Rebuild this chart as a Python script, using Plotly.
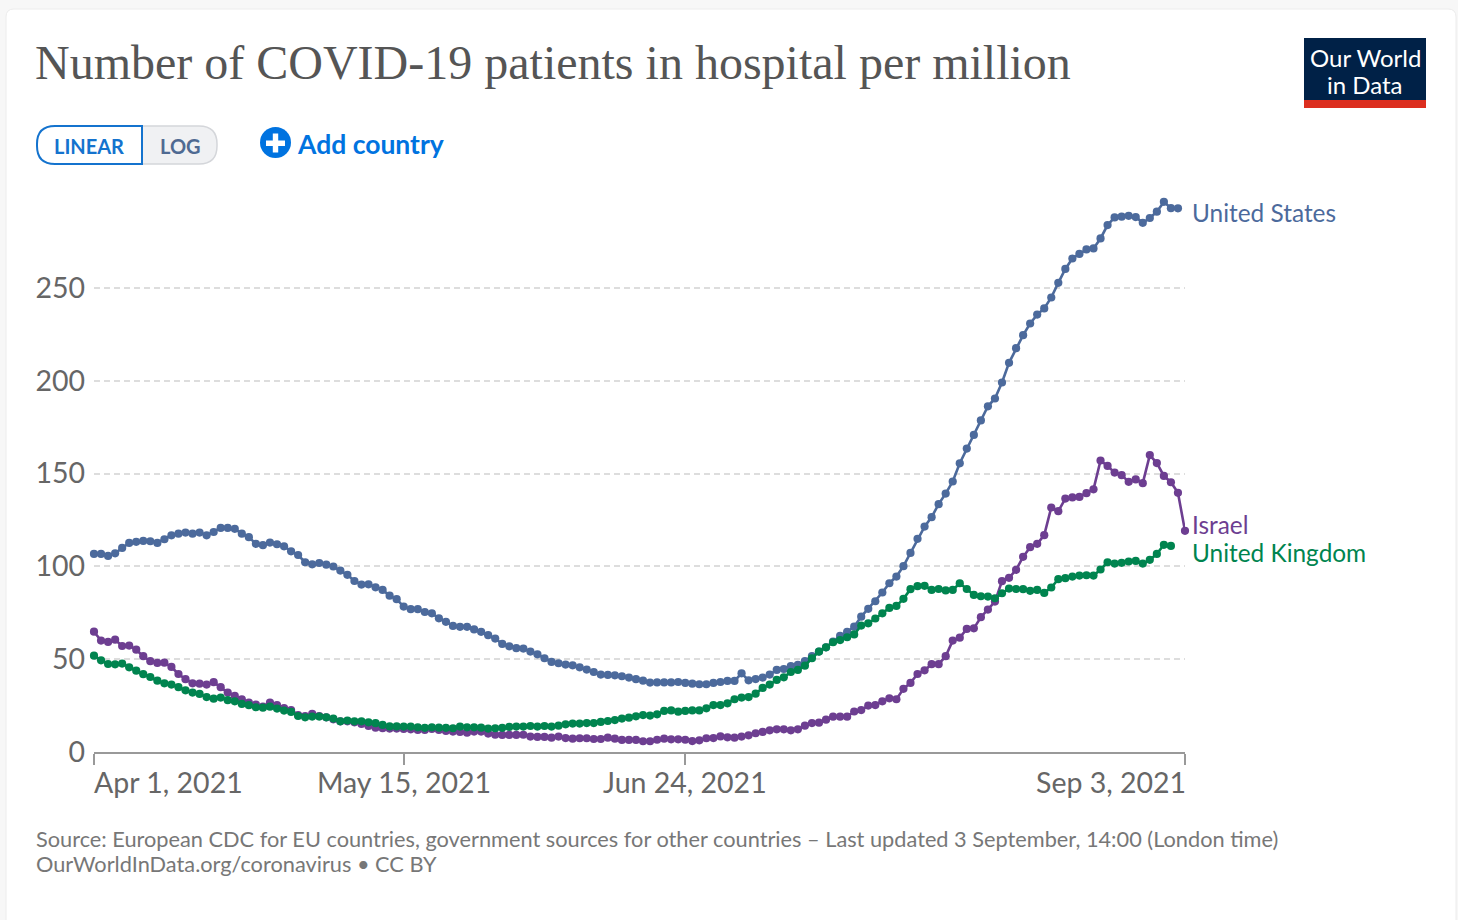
import pandas as pd
import plotly.graph_objects as go

W, H = 1458, 920

START_DATE = "2021-04-01"
END_DATE = "2021-09-03"

united_states = [
    106.7, 106.7, 105.6, 107.0, 109.9, 112.6, 113.2, 113.7, 113.5, 112.6,
    114.6, 116.7, 117.6, 118.2, 117.6, 118.2, 116.7, 118.5, 120.7, 120.7,
    120.2, 117.6, 115.7, 112.1, 111.4, 112.8, 111.9, 110.8, 108.1, 106.1,
    102.2, 101.1, 101.8, 100.9, 99.9, 97.7, 95.4, 92.1, 90.2, 90.3,
    88.7, 87.3, 84.2, 82.3, 78.3, 76.9, 76.9, 75.4, 74.7, 72.0,
    70.1, 67.9, 67.4, 67.4, 66.0, 64.7, 62.9, 61.1, 58.2, 56.9,
    55.9, 55.7, 54.1, 52.6, 50.5, 48.5, 47.8, 47.1, 46.7, 45.6,
    44.4, 43.1, 41.7, 41.5, 41.3, 40.8, 40.1, 39.2, 38.4, 37.4,
    37.5, 37.5, 37.5, 37.7, 37.2, 36.8, 36.5, 36.5, 37.2, 37.7,
    38.3, 38.3, 42.4, 38.6, 39.3, 40.1, 41.7, 44.2, 44.7, 46.3,
    46.9, 49.0, 51.7, 54.1, 56.4, 59.5, 62.5, 64.7, 67.5, 72.9,
    77.1, 81.2, 85.9, 90.9, 94.5, 100.1, 107.2, 114.8, 121.4, 126.5,
    133.5, 139.2, 145.7, 155.5, 163.4, 170.8, 178.6, 186.2, 190.4, 199.0,
    209.6, 217.5, 224.5, 230.8, 235.6, 238.9, 244.8, 252.7, 260.2, 265.8,
    268.3, 270.7, 271.2, 276.6, 283.8, 287.9, 288.3, 288.8, 288.1, 285.0,
    287.6, 291.0, 296.3, 292.9, 292.8,
]

israel = [
    64.8, 60.0, 59.3, 60.5, 57.1, 57.3, 55.1, 51.6, 48.9, 48.0,
    48.1, 45.8, 42.0, 39.2, 37.0, 36.8, 36.3, 37.6, 34.9, 32.0,
    30.2, 28.4, 26.6, 25.5, 24.4, 26.6, 25.2, 23.7, 22.6, 19.9,
    19.4, 20.5, 19.4, 18.7, 17.6, 16.5, 16.5, 16.0, 15.1, 14.0,
    13.1, 12.8, 12.6, 12.6, 12.4, 12.2, 11.9, 11.9, 12.4, 11.9,
    11.3, 11.0, 10.8, 10.4, 11.0, 11.0, 9.9, 9.3, 9.2, 9.2,
    9.2, 9.3, 8.3, 8.1, 8.1, 7.7, 8.3, 7.5, 7.2, 7.4,
    7.4, 7.0, 7.0, 7.7, 7.2, 6.5, 6.5, 6.5, 5.8, 5.8,
    6.6, 7.2, 6.8, 6.8, 6.6, 5.9, 6.3, 7.4, 7.5, 8.4,
    7.9, 7.7, 8.3, 9.0, 10.1, 10.8, 11.7, 12.2, 12.2, 11.7,
    12.2, 14.2, 15.6, 15.8, 17.4, 19.0, 19.0, 19.0, 21.8, 22.6,
    25.0, 25.3, 27.3, 28.9, 28.4, 34.0, 37.2, 42.0, 44.0, 47.3,
    47.3, 51.6, 60.0, 61.6, 66.3, 66.6, 72.6, 76.7, 81.0, 92.0,
    93.8, 98.1, 105.1, 110.3, 112.1, 116.8, 131.7, 129.7, 136.5, 137.1,
    137.4, 139.4, 141.5, 157.0, 154.1, 150.5, 149.1, 145.5, 146.8, 144.8,
    159.9, 155.6, 148.7, 145.3, 139.6, 119.1,
]

united_kingdom = [
    51.9, 49.4, 47.4, 47.2, 47.6, 45.6, 43.8, 41.9, 40.4, 38.4,
    37.0, 36.3, 34.9, 33.2, 32.0, 31.3, 29.6, 28.7, 29.3, 27.9,
    27.3, 25.9, 25.2, 24.1, 23.9, 24.4, 23.4, 22.3, 21.6, 19.4,
    18.7, 19.1, 19.1, 18.7, 18.0, 16.5, 16.9, 16.5, 16.5, 16.0,
    15.5, 14.6, 13.8, 13.8, 13.7, 13.7, 13.3, 13.0, 13.3, 13.1,
    13.0, 12.8, 13.7, 13.3, 13.3, 13.1, 12.6, 12.8, 13.0, 13.5,
    13.7, 13.7, 14.0, 13.7, 14.0, 13.7, 14.2, 14.9, 15.3, 15.3,
    15.6, 15.6, 16.2, 16.7, 17.2, 18.0, 18.5, 19.2, 19.9, 19.6,
    20.3, 22.1, 22.4, 21.7, 22.1, 22.4, 22.4, 23.5, 25.3, 25.3,
    26.2, 28.4, 29.3, 29.6, 31.4, 34.5, 36.3, 38.8, 40.2, 43.1,
    44.2, 46.5, 50.5, 54.1, 56.4, 59.1, 60.3, 61.8, 63.3, 68.1,
    69.3, 71.9, 74.7, 77.6, 78.7, 82.5, 87.7, 89.3, 89.5, 87.3,
    87.8, 87.0, 87.3, 90.9, 87.8, 84.6, 83.9, 83.7, 82.8, 85.5,
    88.0, 87.8, 87.7, 86.8, 87.3, 85.7, 88.6, 93.1, 93.6, 94.5,
    95.0, 95.2, 95.0, 98.3, 102.2, 101.5, 101.9, 102.6, 102.9, 101.5,
    103.5, 106.7, 111.6, 111.0,
]

series = [
    ("United States", united_states, "#4C6A9C", 213),
    ("Israel", israel, "#6D3E91", 524),
    ("United Kingdom", united_kingdom, "#00844F", 552),
]

y_ticks = [0, 50, 100, 150, 200, 250]
x_tick_dates = ["2021-04-01", "2021-05-15", "2021-06-24", "2021-09-03"]
x_tick_labels = ["Apr 1, 2021", "May 15, 2021", "Jun 24, 2021", "Sep 3, 2021"]
x_tick_anchors = ["left", "center", "center", "right"]
x_tick_shifts = [-1, 0, 0, 2]


def px(x):
    return x / W


def py(y):
    return 1 - y / H


def rounded(x0, y0, x1, y1, rl, rr):
    """Rounded-rectangle path in paper coordinates, radii in pixels."""
    pts = [
        f"M {px(x0 + rl)} {py(y0)}", f"L {px(x1 - rr)} {py(y0)}",
        f"Q {px(x1)} {py(y0)} {px(x1)} {py(y0 + rr)}",
        f"L {px(x1)} {py(y1 - rr)}",
        f"Q {px(x1)} {py(y1)} {px(x1 - rr)} {py(y1)}",
        f"L {px(x0 + rl)} {py(y1)}",
        f"Q {px(x0)} {py(y1)} {px(x0)} {py(y1 - rl)}",
        f"L {px(x0)} {py(y0 + rl)}",
        f"Q {px(x0)} {py(y0)} {px(x0 + rl)} {py(y0)}", "Z",
    ]
    return " ".join(pts)


fig = go.Figure()
for name, values, color, _ in series:
    dates = pd.date_range(START_DATE, periods=len(values), freq="D")
    fig.add_trace(go.Scatter(
        x=dates, y=values, name=name, mode="lines+markers",
        line=dict(color=color, width=2.6),
        marker=dict(color=color, size=8.2),
        cliponaxis=False, showlegend=False,
    ))

shapes = [
    dict(type="path", xref="paper", yref="paper", layer="below",
         path=rounded(6, 9, 1456, 960, 8, 8),
         fillcolor="#FFFFFF", line=dict(color="#ECECEC", width=1)),
    dict(type="path", xref="paper", yref="paper",
         path=rounded(142, 126, 217, 164, 0, 18),
         fillcolor="#F0F1F3", line=dict(color="#D4D6DA", width=1.5)),
    dict(type="path", xref="paper", yref="paper",
         path=rounded(37, 126, 142, 164, 18, 0),
         fillcolor="#FFFFFF", line=dict(color="#1473CE", width=2)),
    dict(type="circle", xref="paper", yref="paper",
         x0=px(260), x1=px(291), y0=py(127), y1=py(158),
         fillcolor="#0073E0", line=dict(width=0)),
    dict(type="rect", xref="paper", yref="paper",
         x0=px(266), x1=px(285), y0=py(140.5), y1=py(146),
         fillcolor="#FFFFFF", line=dict(width=0)),
    dict(type="rect", xref="paper", yref="paper",
         x0=px(272.8), x1=px(278.2), y0=py(133.5), y1=py(152.5),
         fillcolor="#FFFFFF", line=dict(width=0)),
    dict(type="rect", xref="paper", yref="paper",
         x0=px(1304), x1=px(1426), y0=py(38), y1=py(100),
         fillcolor="#002147", line=dict(width=0)),
    dict(type="rect", xref="paper", yref="paper",
         x0=px(1304), x1=px(1426), y0=py(100), y1=py(108),
         fillcolor="#DC2E1F", line=dict(width=0)),
]


def text(x, y, s, size, color, anchor="left", family="Lato", valign="middle"):
    return dict(xref="paper", yref="paper", x=px(x), y=py(y), text=s,
                showarrow=False, xanchor=anchor, yanchor=valign,
                align=anchor, borderpad=0,
                font=dict(family=family, size=size, color=color))


annotations = [
    text(89, 146, "<b>LINEAR</b>", 20, "#1473CE", "center"),
    text(180, 146, "<b>LOG</b>", 20, "#4F6A92", "center"),
    text(296, 144, "<b>Add country</b>", 26.5, "#0073E0"),
    text(1365, 57, "Our World", 24, "#FFFFFF", "center"),
    text(1365, 84, "in Data", 24, "#FFFFFF", "center"),
    text(35, 839, "Source: European CDC for EU countries, government sources for "
         "other countries – Last updated 3 September, 14:00 (London time)",
         21.75, "#777777"),
    text(35, 864, "OurWorldInData.org/coronavirus • CC BY", 21.75, "#777777"),
]
for name, _, color, label_y in series:
    annotations.append(text(1191, label_y, name, 24.4, color))
for d, lab, anc, shift in zip(x_tick_dates, x_tick_labels, x_tick_anchors, x_tick_shifts):
    annotations.append(dict(
        xref="x", yref="paper", x=d, y=py(782), text=lab, showarrow=False,
        xanchor=anc, yanchor="middle", borderpad=0, xshift=shift,
        font=dict(family="Lato", size=28.5, color="#666666"),
    ))

fig.update_layout(
    width=W, height=H,
    margin=dict(l=0, r=0, t=0, b=0, autoexpand=False),
    paper_bgcolor="#F7F7F7", plot_bgcolor="rgba(0,0,0,0)",
    showlegend=False,
    title=dict(
        text="Number of COVID-19 patients in hospital per million",
        x=px(35), xanchor="left", xref="paper",
        y=py(62), yanchor="middle", yref="paper",
        font=dict(family="Liberation Serif", size=48, color="#555555"),
    ),
    xaxis=dict(
        type="date", domain=[px(94), px(1185)],
        range=[START_DATE, END_DATE],
        tickmode="array", tickvals=x_tick_dates, showticklabels=False,
        ticks="outside", ticklen=11, tickwidth=1.5, tickcolor="#999999",
        showgrid=False, showline=True, linecolor="#999999", linewidth=1.5,
        zeroline=False, anchor="y", automargin=False,
    ),
    yaxis=dict(
        domain=[py(752), py(195)], range=[0, 300],
        tickmode="array", tickvals=y_ticks, ticks="",
        tickfont=dict(family="Lato", size=28.5, color="#666666"),
        ticklabelstandoff=8, automargin=False,
        showgrid=True, gridcolor="#DDDDDD", griddash="6px,4px", gridwidth=1.5,
        showline=False, zeroline=False, anchor="x",
    ),
    shapes=shapes,
    annotations=annotations,
)

fig.write_html("out.html", config=dict(displayModeBar=False),
               post_script="document.body.style.margin='0';")
